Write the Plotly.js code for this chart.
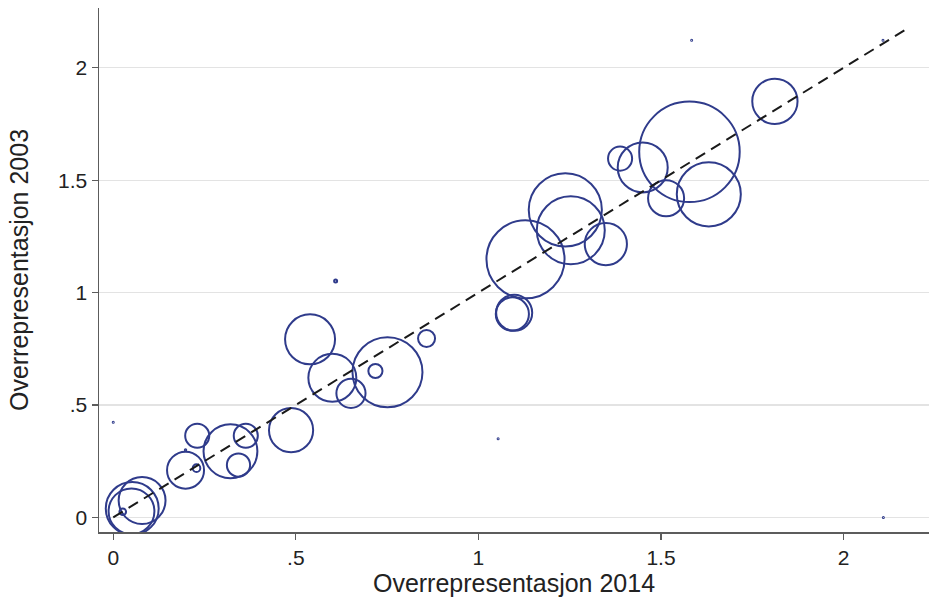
<!DOCTYPE html>
<html>
<head>
<meta charset="utf-8">
<script src="https://cdn.plot.ly/plotly-3.0.1.min.js"></script>
<style>
  html, body { margin: 0; padding: 0; background: #fff; }
  #chart { width: 931px; height: 599px; }
</style>
</head>
<body>
<div id="chart"></div>
<script>
// Overrepresentation by group, 2014 vs 2003; bubble area follows group weight
const over2014 = [0.052, 0.050, 0.079, 0.026, 0.000, 0.198, 0.198, 0.228, 0.230, 0.321,
                  0.343, 0.363, 0.487, 0.539, 0.600, 0.651, 0.609, 0.718, 0.751, 0.858,
                  1.054, 1.093, 1.098, 1.129, 1.238, 1.253, 1.349, 1.388, 1.450, 1.514,
                  1.578, 1.631, 1.584, 1.812, 2.108, 2.109];
const over2003 = [0.040, 0.027, 0.075, 0.025, 0.423, 0.210, 0.300, 0.219, 0.363, 0.294,
                  0.233, 0.363, 0.388, 0.792, 0.621, 0.552, 1.052, 0.651, 0.646, 0.796,
                  0.350, 0.905, 0.910, 1.148, 1.368, 1.277, 1.216, 1.596, 1.557, 1.420,
                  1.626, 1.437, 2.122, 1.851, 2.123, 0.000];
const weight   = [280, 210, 220, 4.4, 0.1, 137, 0.2, 5.8, 58, 290,
                  54, 58, 195, 250, 230, 85, 0.9, 20, 490, 29,
                  0.1, 110, 130, 610, 535, 462, 178, 58, 250, 130,
                  1010, 410, 0.1, 205, 0.1, 0.1];

// 45-degree reference line
const refX = [0, 2.18];
const refY = [0, 2.18];

const yTicks = [0, 0.5, 1, 1.5, 2];
const yTickText = ['0', '.5', '1', '1.5', '2'];
const xTicks = [0, 0.5, 1, 1.5, 2];
const xTickText = ['0', '.5', '1', '1.5', '2'];

const navy = '#2f3b8b';
const axisGrey = '#5c5c5c';
const fontFam = '"Liberation Sans", Arial, Helvetica, sans-serif';

const bubbles = {
  type: 'scatter',
  mode: 'markers',
  x: over2014,
  y: over2003,
  marker: {
    symbol: 'circle-open',
    size: weight,
    sizemode: 'area',
    sizeref: 0.2,
    sizemin: 0,
    opacity: 1,
    color: navy,
    line: { color: navy, width: 2 }
  },
  hoverinfo: 'x+y',
  showlegend: false
};

const refLine = {
  type: 'scatter',
  mode: 'lines',
  x: refX,
  y: refY,
  line: { color: '#1a1a1a', width: 2, dash: '11px,7px' },
  hoverinfo: 'skip',
  showlegend: false
};

const layout = {
  width: 931,
  height: 599,
  margin: { l: 99, r: 2, t: 8, b: 67 },
  paper_bgcolor: '#ffffff',
  plot_bgcolor: '#ffffff',
  font: { family: fontFam, color: '#222222', size: 20 },
  xaxis: {
    range: [-0.039, 2.234],
    tickvals: xTicks,
    ticktext: xTickText,
    showgrid: false,
    zeroline: false,
    showline: true,
    linecolor: axisGrey,
    linewidth: 1.5,
    ticks: 'outside',
    ticklen: 6,
    tickwidth: 1.2,
    tickcolor: axisGrey,
    tickfont: { size: 21, family: fontFam, color: '#222222' },
    title: { text: 'Overrepresentasjon 2014', font: { size: 25, family: fontFam, color: '#222222' }, standoff: 4 }
  },
  yaxis: {
    range: [-0.065, 2.266],
    tickvals: yTicks,
    ticktext: yTickText,
    showgrid: true,
    gridcolor: '#e3e3e3',
    gridwidth: 1.2,
    zeroline: false,
    showline: true,
    linecolor: axisGrey,
    linewidth: 1.5,
    ticks: 'outside',
    ticklen: 6,
    tickwidth: 1.2,
    tickcolor: axisGrey,
    tickfont: { size: 21, family: fontFam, color: '#222222' },
    title: { text: 'Overrepresentasjon 2003', font: { size: 25, family: fontFam, color: '#222222' }, standoff: 22 }
  }
};

Plotly.newPlot('chart', [bubbles, refLine], layout, { displayModeBar: false, staticPlot: true });
</script>
</body>
</html>
